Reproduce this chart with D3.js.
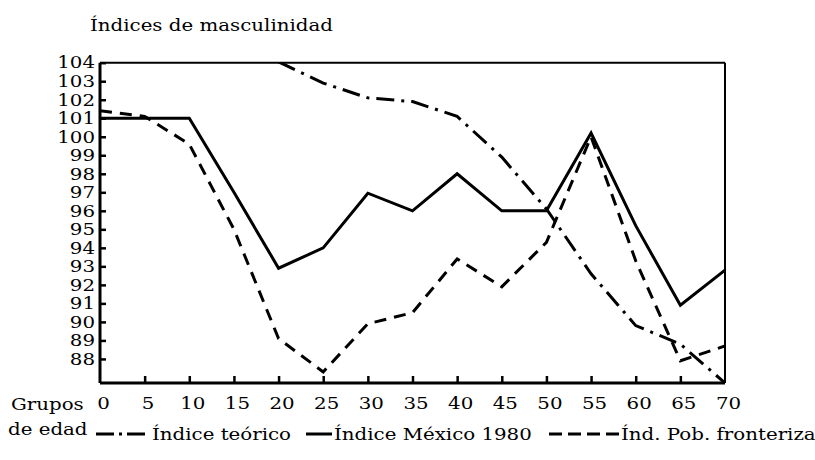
<!DOCTYPE html>
<html>
<head>
<meta charset="utf-8">
<script src="https://cdn.jsdelivr.net/npm/d3@7"></script>
<style>
  body { margin: 0; background: #fff; }
  svg text { font-family: "DejaVu Serif", "Liberation Serif", serif; fill: #000; }
</style>
</head>
<body>
<svg id="chart" width="815" height="460"></svg>
<script>
// Age groups (x axis)
const ages = [0, 5, 10, 15, 20, 25, 30, 35, 40, 45, 50, 55, 60, 65, 70];
const xTicks = [0, 5, 10, 15, 20, 25, 30, 35, 40, 45, 50, 55, 60, 65, 70];
const yTicks = [88, 89, 90, 91, 92, 93, 94, 95, 96, 97, 98, 99, 100, 101, 102, 103, 104];

// Series (null = above the drawn range / not shown)
const teorico    = [null, null, null, null, 104.05, 102.9, 102.1, 101.9, 101.1, 98.9, 96.1, 92.6, 89.8, 88.8, 86.7];
const mexico1980 = [101, 101, 101, 97, 92.9, 94, 96.95, 96, 98, 96, 96, 100.2, 95.2, 90.9, 92.8];
const fronteriza = [101.4, 101.1, 99.6, 95, 89.1, 87.3, 89.9, 90.5, 93.4, 91.9, 94.3, 100, 93.3, 87.9, 88.7];

const titleText = "Índices de masculinidad";
const xLabel1 = "Grupos";
const xLabel2 = "de edad";
const legendNames = ["Índice teórico", "Índice México 1980", "Índ. Pob. fronteriza"];

const FS = 16.5;      // glyph height like the reference
const SX = 1.2;       // the reference type is wide: stretch horizontally
const svg = d3.select("#chart");
const L = 100, R = 725, T = 62.7, B = 383;

const x = d3.scaleLinear().domain([0, 70]).range([L, R]);
const y = d3.scaleLinear().domain([86.7, 104]).range([B, T]);

function label(parent, tx, ty, str, anchor) {
  return parent.append("text")
    .attr("transform", `translate(${tx},${ty}) scale(${SX},1)`)
    .attr("font-size", FS)
    .attr("text-anchor", anchor || "start")
    .text(str);
}

svg.append("defs").append("clipPath").attr("id", "clip")
  .append("rect").attr("x", L).attr("y", T).attr("width", R - L).attr("height", B - T);

// Title
label(svg, 90, 31, titleText);

// Frame (top and right)
svg.append("line").attr("x1", L).attr("x2", R).attr("y1", T).attr("y2", T)
  .attr("stroke", "#000").attr("stroke-width", 2);
svg.append("line").attr("x1", R).attr("x2", R).attr("y1", T).attr("y2", B)
  .attr("stroke", "#000").attr("stroke-width", 2);

// Y axis
const yAxis = d3.axisRight(y).tickValues(yTicks).tickSize(6).tickFormat(d3.format("d"));
const gy = svg.append("g").attr("transform", `translate(${L},0)`).call(yAxis);
gy.select(".domain").attr("stroke-width", 3).attr("d", `M0,${T}V${B}`);
gy.selectAll(".tick line").attr("stroke-width", 2.5);
gy.selectAll(".tick text")
  .attr("x", 0).attr("dy", "0.32em")
  .attr("transform", `translate(-5,0) scale(${SX},1)`)
  .attr("text-anchor", "end")
  .attr("font-size", FS).attr("font-family", "DejaVu Serif").attr("fill", "#000");

// X axis
const xAxis = d3.axisTop(x).tickValues(xTicks).tickSize(7).tickFormat(d3.format("d"));
const gx = svg.append("g").attr("transform", `translate(0,${B})`).call(xAxis);
gx.select(".domain").attr("stroke-width", 3).attr("d", `M${L},0H${R}`);
gx.selectAll(".tick line").attr("stroke-width", 2.5)
  .attr("display", d => (d === 0 || d === 70) ? "none" : null);
gx.selectAll(".tick text")
  .attr("x", 0).attr("y", 0).attr("dy", 0)
  .attr("transform", `translate(3,26) scale(${SX},1)`)
  .attr("text-anchor", "middle")
  .attr("font-size", FS).attr("font-family", "DejaVu Serif").attr("fill", "#000");

// Axis label
label(svg, 11, 410, xLabel1);
label(svg, 8, 435, xLabel2);

// Lines
const line = d3.line()
  .defined(d => d[1] !== null)
  .x(d => x(d[0])).y(d => y(d[1]));

const styles = [
  { data: teorico, dash: "18,7,3,7" },
  { data: mexico1980, dash: null },
  { data: fronteriza, dash: "12,8" }
];

const plot = svg.append("g").attr("clip-path", "url(#clip)");
styles.forEach(s => {
  plot.append("path")
    .datum(ages.map((a, i) => [a, s.data[i]]))
    .attr("d", line)
    .attr("fill", "none").attr("stroke", "#000").attr("stroke-width", 3)
    .attr("stroke-linejoin", "miter")
    .attr("stroke-dasharray", s.dash);
});

// Legend
const legendY = 434;
const legendItems = [
  { x1: 96, x2: 150, dash: "18,5,3,5" },
  { x1: 306, x2: 332, dash: null },
  { x1: 549, x2: 619, dash: "13,6" }
];
legendItems.forEach((it, i) => {
  svg.append("line").attr("x1", it.x1).attr("x2", it.x2).attr("y1", legendY).attr("y2", legendY)
    .attr("stroke", "#000").attr("stroke-width", 3).attr("stroke-dasharray", it.dash);
  label(svg, it.x2 + 2, 440, legendNames[i]);
});
</script>
</body>
</html>
